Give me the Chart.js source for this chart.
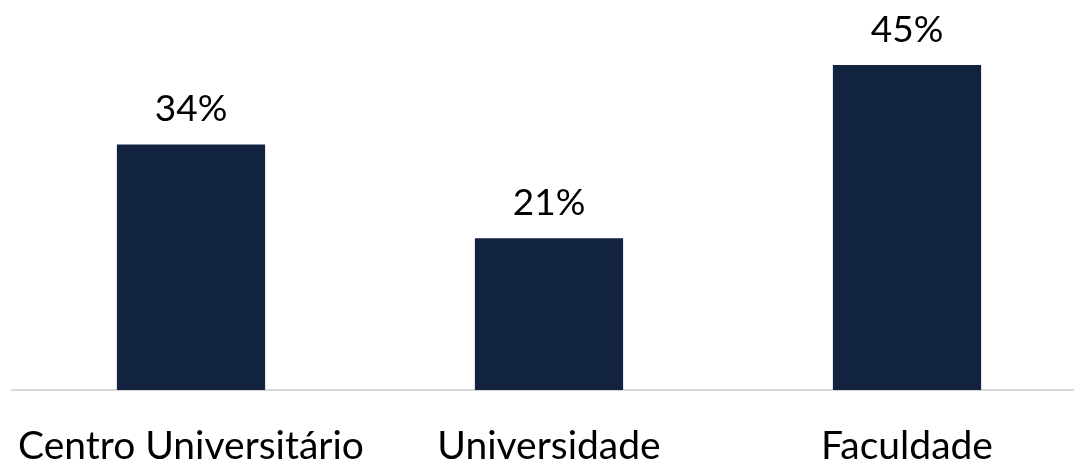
<!DOCTYPE html>
<html lang="pt">
<head>
    <meta charset="UTF-8" />
    <title>Tipo de instituição</title>
    <script src="https://cdn.jsdelivr.net/npm/chart.js"></script>
    <style>
        html, body { margin: 0; padding: 0; background: #ffffff; overflow: hidden; }
        #wrap { width: 1074px; height: 463px; overflow: hidden; }
    </style>
</head>
<body>
    <div id="wrap"><canvas id="barChart" width="1098" height="463"></canvas></div>

    <script>
        const categories = ["Centro Universitário", "Universidade", "Faculdade"];
        const values = [34, 21, 45];

        const FONT = "Lato, 'Open Sans', sans-serif";

        // percent labels above each bar
        const valueLabels = {
            id: "valueLabels",
            afterDatasetsDraw(chart) {
                const ctx = chart.ctx;
                const meta = chart.getDatasetMeta(0);
                ctx.save();
                ctx.font = "37px " + FONT;
                ctx.fillStyle = "#000000";
                ctx.textAlign = "center";
                ctx.textBaseline = "alphabetic";
                meta.data.forEach((bar, i) => {
                    ctx.fillText(values[i] + "%", bar.x, bar.y - 23);
                });
                ctx.restore();
            }
        };

        new Chart(document.getElementById("barChart"), {
            type: "bar",
            data: {
                labels: categories,
                datasets: [{
                    data: values,
                    backgroundColor: "#12233f",
                    categoryPercentage: 1,
                    barPercentage: 0.414
                }]
            },
            options: {
                responsive: false,
                animation: false,
                layout: { padding: { left: 12, right: 12, top: 0, bottom: 0 } },
                plugins: {
                    legend: { display: false },
                    tooltip: { enabled: false }
                },
                scales: {
                    x: {
                        afterFit(scale) {
                            scale.height = 73;
                            scale.paddingLeft = 0;
                            scale.paddingRight = 0;
                        },
                        grid: { display: false },
                        border: { display: true, color: "#d9d9d9", width: 2 },
                        ticks: {
                            color: "#000000",
                            font: { family: FONT, size: 39 },
                            padding: 25,
                            maxRotation: 0,
                            autoSkip: false
                        }
                    },
                    y: {
                        display: false,
                        min: 0,
                        max: 54
                    }
                }
            },
            plugins: [valueLabels]
        });
    </script>
</body>
</html>
